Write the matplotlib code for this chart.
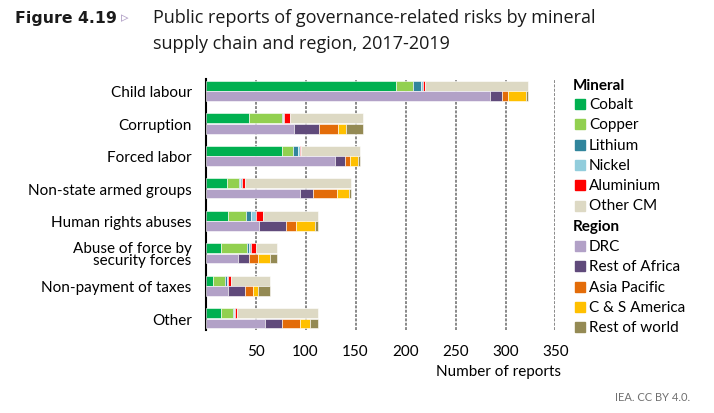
import numpy as np
import matplotlib.pyplot as plt
from matplotlib.patches import Rectangle

plt.rcParams['font.family'] = ['Lato', 'DejaVu Sans']

categories = ["Child labour", "Corruption", "Forced labor", "Non-state armed groups",
              "Human rights abuses", "Abuse of force by\nsecurity forces",
              "Non-payment of taxes", "Other"]

# mineral split
cobalt    = [190, 43, 76, 21, 22, 15, 7, 15]
copper    = [17, 33, 11, 12, 18, 26, 12, 12]
lithium   = [8, 1, 5, 1, 5, 2, 2, 1]
nickel    = [2, 1, 2, 2, 5, 2, 1, 1]
aluminium = [2, 6, 1, 3, 7, 5, 3, 2]
other_cm  = [103, 73, 59, 106, 55, 21, 39, 81]

# region split
drc            = [284, 88, 129, 94, 53, 32, 22, 59]
rest_of_africa = [12, 25, 10, 13, 27, 11, 17, 17]
asia_pacific   = [6, 19, 5, 24, 10, 9, 8, 18]
cs_america     = [18, 8, 8, 12, 19, 12, 5, 10]
rest_of_world  = [2, 17, 2, 2, 3, 7, 12, 8]

mineral_names = ["Cobalt", "Copper", "Lithium", "Nickel", "Aluminium", "Other CM"]
mineral_colors = ["#00B050", "#92D050", "#31859C", "#92CDDC", "#FF0000", "#DDD9C4"]
region_names = ["DRC", "Rest of Africa", "Asia Pacific", "C & S America", "Rest of world"]
region_colors = ["#B2A1C7", "#604A7B", "#E36C09", "#FFC000", "#948A54"]

minerals = [cobalt, copper, lithium, nickel, aluminium, other_cm]
regions = [drc, rest_of_africa, asia_pacific, cs_america, rest_of_world]

fig = plt.figure(figsize=(7.14, 4.14), dpi=100)
ax = fig.add_axes([0.288, 0.2005, 0.49, 0.6063])

y = np.arange(len(categories))
h = 0.3

left = np.zeros(len(categories))
for vals, col in zip(minerals, mineral_colors):
    ax.barh(y - h / 2 - 0.01, vals, height=h, left=left, color=col,
            edgecolor="white", linewidth=0.4, zorder=3)
    left += np.array(vals)

left = np.zeros(len(categories))
for vals, col in zip(regions, region_colors):
    ax.barh(y + h / 2 + 0.01, vals, height=h, left=left, color=col,
            edgecolor="white", linewidth=0.4, zorder=3)
    left += np.array(vals)

ax.set_xlim(0, 350)
ax.set_ylim(len(categories) - 0.64, -0.37)
ax.set_xticks([50, 100, 150, 200, 250, 300, 350])
ax.set_yticks(y)
ax.set_yticklabels(categories, fontsize=11, linespacing=0.85)
ax.tick_params(axis="both", length=0, labelsize=11)
ax.tick_params(axis="y", pad=10)
ax.tick_params(axis="x", pad=10)
for t in ax.get_yticklabels():
    t.set_horizontalalignment("right")
for s in ["top", "right", "bottom"]:
    ax.spines[s].set_visible(False)
ax.spines["left"].set_linewidth(1.5)
ax.spines["left"].set_color("black")
ax.xaxis.grid(True, color="#808080", linestyle=(0, (1.6, 0.8)), linewidth=1.3, zorder=0)
ax.set_axisbelow(True)

fig.text(499 / 714, 1 - 372 / 414, "Number of reports", ha="center", va="center", fontsize=11)

# legend drawn by hand
lx = 573 / 714
def legend_row(ypix, text, color=None):
    yy = 1 - ypix / 414
    if color is None:
        fig.text(lx, yy, text, ha="left", va="center", fontsize=11, fontweight="bold")
    else:
        fig.patches.append(Rectangle((575 / 714, yy - 5 / 414), 10 / 714, 10 / 414,
                                     transform=fig.transFigure, color=color, figure=fig))
        fig.text(589 / 714, yy, text, ha="left", va="center", fontsize=11)

legend_row(86, "Mineral")
for i, (n, c) in enumerate(zip(mineral_names, mineral_colors)):
    legend_row(105 + i * 20.3, n, c)
legend_row(227, "Region")
for i, (n, c) in enumerate(zip(region_names, region_colors)):
    legend_row(247 + i * 20.3, n, c)

# title
fig.text(15 / 714, 1 - 18 / 414, "Figure 4.19", ha="left", va="center",
         fontsize=11.3, fontweight="bold", color="#1a1a1a", family="DejaVu Sans")
fig.text(121 / 714, 1 - 18 / 414, "\u25B9", ha="left", va="center",
         fontsize=11, color="#B2A1C7", family="DejaVu Sans")
fig.text(153 / 714, 1 - 18 / 414, "Public reports of governance-related risks by mineral",
         ha="left", va="center", fontsize=13, color="#1a1a1a", family="Open Sans")
fig.text(153 / 714, 1 - 44 / 414, "supply chain and region, 2017-2019",
         ha="left", va="center", fontsize=13, color="#1a1a1a", family="Open Sans")

fig.text(690 / 714, 1 - 398 / 414, "IEA. CC BY 4.0.", ha="right", va="center",
         fontsize=8, color="#707070")

fig.savefig("out.png", dpi=100)
